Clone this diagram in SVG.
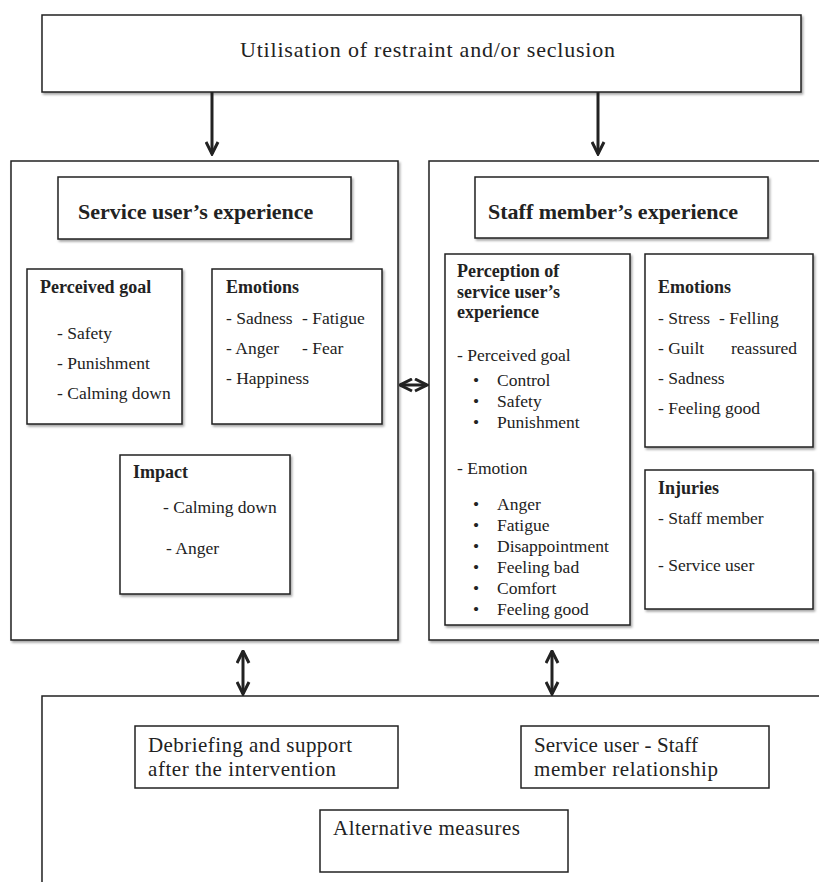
<svg xmlns="http://www.w3.org/2000/svg" width="819" height="882" viewBox="0 0 819 882">
<defs>
<filter id="sh" x="-5%" y="-5%" width="115%" height="115%">
<feDropShadow dx="1.5" dy="2" stdDeviation="1.2" flood-color="#000" flood-opacity="0.35"/>
</filter>
<marker id="ah" viewBox="0 0 10 10" refX="9" refY="5" markerWidth="5" markerHeight="5" orient="auto-start-reverse" markerUnits="strokeWidth">
<path d="M1,1 L9,5 L1,9" fill="none" stroke="#222" stroke-width="2"/>
</marker>
</defs>
<style>
rect{fill:#fff;stroke:#222;stroke-width:1.5;filter:url(#sh)}
text{font-family:"Liberation Serif","DejaVu Serif",serif;fill:#222}
.t{font-size:22px}
.h{font-size:22px;font-weight:bold}
.s{font-size:18px;font-weight:bold}
.i{font-size:17.5px}
.b{font-size:21px}
.c line{stroke:#222;stroke-width:3;fill:none}
</style>
<rect width="819" height="882" style="fill:#fff;stroke:none;filter:none"/>

<g id="top"><rect x="42" y="15" width="759" height="77"/><text class="t" x="240" y="57" textLength="375">Utilisation of restraint and/or seclusion</text></g>

<g id="left-panel"><rect x="11" y="161" width="387" height="479"/></g>
<g id="right-panel"><rect x="429" y="161" width="400" height="479"/></g>

<g id="su-title"><rect x="58" y="177" width="293" height="62"/><text class="h" x="78" y="219">Service user’s experience</text></g>
<g id="sm-title"><rect x="475" y="177" width="293" height="61"/><text class="h" x="488" y="219">Staff member’s experience</text></g>

<g id="perceived-goal"><rect x="27" y="269" width="155" height="155"/>
<text class="s" x="40" y="293">Perceived goal</text>
<text class="i" x="57" y="339">- Safety</text>
<text class="i" x="57" y="369">- Punishment</text>
<text class="i" x="57" y="399">- Calming down</text></g>

<g id="su-emotions"><rect x="212" y="269" width="170" height="155"/>
<text class="s" x="226" y="293">Emotions</text>
<text class="i" x="226" y="324">- Sadness</text><text class="i" x="302" y="324">- Fatigue</text>
<text class="i" x="226" y="354">- Anger</text><text class="i" x="302" y="354">- Fear</text>
<text class="i" x="226" y="384">- Happiness</text></g>

<g id="impact"><rect x="120" y="455" width="170" height="139"/>
<text class="s" x="133" y="478">Impact</text>
<text class="i" x="163" y="513">- Calming down</text>
<text class="i" x="166" y="554">- Anger</text></g>

<g id="perception"><rect x="445" y="254" width="185" height="371"/>
<text class="s" x="457" y="277">Perception of</text>
<text class="s" x="457" y="298">service user’s</text>
<text class="s" x="457" y="318">experience</text>
<text class="i" x="457" y="361">- Perceived goal</text>
<text class="i" x="473" y="386">•</text><text class="i" x="497" y="386">Control</text>
<text class="i" x="473" y="407">•</text><text class="i" x="497" y="407">Safety</text>
<text class="i" x="473" y="428">•</text><text class="i" x="497" y="428">Punishment</text>
<text class="i" x="457" y="474">- Emotion</text>
<text class="i" x="473" y="510">•</text><text class="i" x="497" y="510">Anger</text>
<text class="i" x="473" y="531">•</text><text class="i" x="497" y="531">Fatigue</text>
<text class="i" x="473" y="552">•</text><text class="i" x="497" y="552">Disappointment</text>
<text class="i" x="473" y="573">•</text><text class="i" x="497" y="573">Feeling bad</text>
<text class="i" x="473" y="594">•</text><text class="i" x="497" y="594">Comfort</text>
<text class="i" x="473" y="615">•</text><text class="i" x="497" y="615">Feeling good</text></g>

<g id="sm-emotions"><rect x="645" y="254" width="168" height="193"/>
<text class="s" x="658" y="293">Emotions</text>
<text class="i" x="658" y="324">- Stress</text><text class="i" x="719" y="324">- Felling</text>
<text class="i" x="658" y="354">- Guilt</text><text class="i" x="731" y="354">reassured</text>
<text class="i" x="658" y="384">- Sadness</text>
<text class="i" x="658" y="414">- Feeling good</text></g>

<g id="injuries"><rect x="645" y="470" width="168" height="139"/>
<text class="s" x="658" y="494">Injuries</text>
<text class="i" x="658" y="524">- Staff  member</text>
<text class="i" x="658" y="571">- Service user</text></g>

<g id="bottom-panel"><rect x="42" y="696" width="790" height="200"/></g>

<g id="debriefing"><rect x="135" y="726" width="263" height="62" style="filter:none"/>
<text class="b" x="148" y="752" textLength="204">Debriefing and support</text>
<text class="b" x="148" y="776" textLength="188">after the intervention</text></g>
<g id="relationship"><rect x="521" y="726" width="248" height="62" style="filter:none"/>
<text class="b" x="534" y="752" textLength="164">Service user - Staff</text>
<text class="b" x="534" y="776" textLength="184">member relationship</text></g>
<g id="alternative"><rect x="320" y="810" width="248" height="62" style="filter:none"/>
<text class="b" x="333" y="835" textLength="187">Alternative measures</text></g>

<g class="c" id="connectors">
<line x1="212" y1="92" x2="212" y2="154" marker-end="url(#ah)"/>
<line x1="598" y1="92" x2="598" y2="154" marker-end="url(#ah)"/>
<line x1="400" y1="385" x2="427" y2="385" marker-start="url(#ah)" marker-end="url(#ah)"/>
<line x1="243" y1="651" x2="243" y2="694" marker-start="url(#ah)" marker-end="url(#ah)"/>
<line x1="552" y1="651" x2="552" y2="694" marker-start="url(#ah)" marker-end="url(#ah)"/>
</g>
</svg>
